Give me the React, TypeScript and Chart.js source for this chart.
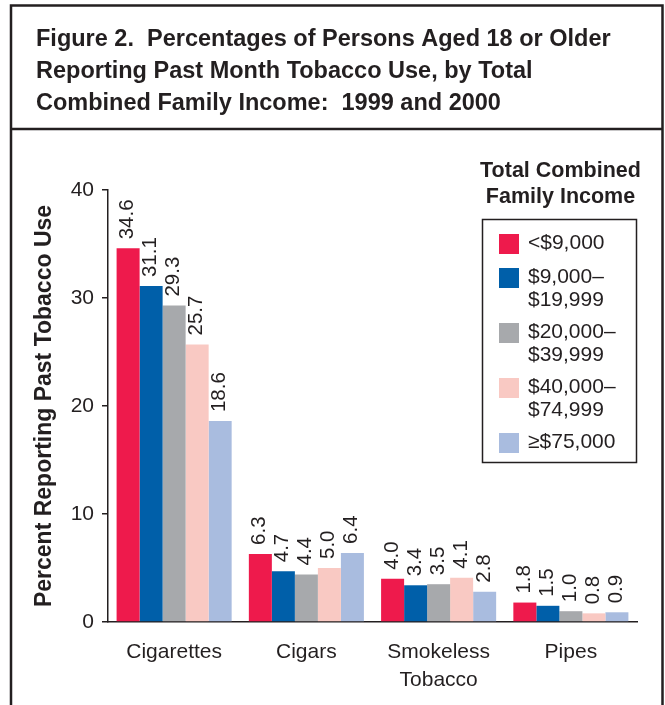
import { useEffect, useRef } from 'react';
import { Chart, registerables } from 'chart.js';

Chart.register(...registerables);

// Tobacco product categories along the x axis
const categories: (string | string[])[] = ['Cigarettes', 'Cigars', ['Smokeless', 'Tobacco'], 'Pipes'];

// Income brackets (legend entries, one array entry per text line)
const incomeGroups: string[][] = [
  ['<$9,000'],
  ['$9,000–', '$19,999'],
  ['$20,000–', '$39,999'],
  ['$40,000–', '$74,999'],
  ['≥$75,000'],
];

// Percent reporting past month use, per income bracket
const under9k = [34.6, 6.3, 4.0, 1.8];
const from9kTo19k = [31.1, 4.7, 3.4, 1.5];
const from20kTo39k = [29.3, 4.4, 3.5, 1.0];
const from40kTo74k = [25.7, 5.0, 4.1, 0.8];
const over75k = [18.6, 6.4, 2.8, 0.9];

const seriesValues = [under9k, from9kTo19k, from20kTo39k, from40kTo74k, over75k];
const groupColors = ['#EE1A4C', '#005FA9', '#A7A9AC', '#F9C9C3', '#A9BCDF'];

const yTicks = [0, 10, 20, 30, 40];

const titleLines = [
  'Figure 2.  Percentages of Persons Aged 18 or Older',
  'Reporting Past Month Tobacco Use, by Total',
  'Combined Family Income:  1999 and 2000',
];
const legendTitle = ['Total Combined', 'Family Income'];
const yAxisTitle = 'Percent Reporting Past Tobacco Use';

const INK = '#231F20';
const FONT = '"Liberation Sans", Arial, Helvetica, sans-serif';

// Outer frame, heading block and heading text
const framePlugin = {
  id: 'frame',
  beforeDraw(chart: Chart) {
    const { ctx, width, height } = chart;
    ctx.save();
    ctx.fillStyle = '#ffffff';
    ctx.fillRect(0, 0, width, height);
    ctx.strokeStyle = INK;
    ctx.lineWidth = 2.5;
    ctx.beginPath();
    ctx.moveTo(11, height);
    ctx.lineTo(11, 5.5);
    ctx.lineTo(662.5, 5.5);
    ctx.lineTo(662.5, height);
    ctx.moveTo(11, 129);
    ctx.lineTo(662.5, 129);
    ctx.stroke();

    ctx.fillStyle = INK;
    ctx.font = `bold 23.5px ${FONT}`;
    ctx.textAlign = 'left';
    ctx.textBaseline = 'alphabetic';
    titleLines.forEach((line, i) => ctx.fillText(line, 36, 46 + i * 32));
    ctx.restore();
  },
};

// Rotated value labels above each bar
const valueLabelPlugin = {
  id: 'valueLabels',
  afterDatasetsDraw(chart: Chart) {
    const { ctx } = chart;
    ctx.save();
    ctx.fillStyle = INK;
    ctx.font = `20.5px ${FONT}`;
    ctx.textAlign = 'left';
    ctx.textBaseline = 'alphabetic';
    chart.data.datasets.forEach((ds, i) => {
      const meta = chart.getDatasetMeta(i);
      meta.data.forEach((bar: any, j: number) => {
        const v = ds.data[j] as number;
        ctx.save();
        ctx.translate(bar.x + 5, bar.y - 9);
        ctx.rotate(-Math.PI / 2);
        ctx.fillText(v.toFixed(1), 0, 0);
        ctx.restore();
      });
    });
    ctx.restore();
  },
};

// Boxed legend with a bold heading above it
const legendPlugin = {
  id: 'boxLegend',
  afterDraw(chart: Chart) {
    const { ctx } = chart;
    ctx.save();
    ctx.fillStyle = INK;
    ctx.textAlign = 'center';
    ctx.textBaseline = 'middle';
    ctx.font = `bold 21.5px ${FONT}`;
    legendTitle.forEach((line, i) => ctx.fillText(line, 560.5, 171 + i * 26));

    ctx.strokeStyle = INK;
    ctx.lineWidth = 1.5;
    ctx.strokeRect(482.5, 219.5, 154, 243);

    ctx.font = `21px ${FONT}`;
    ctx.textAlign = 'left';
    let top = 234;
    chart.data.datasets.forEach((ds, i) => {
      const lines = incomeGroups[i];
      ctx.fillStyle = ds.backgroundColor as string;
      ctx.fillRect(499, top, 20, 20);
      ctx.fillStyle = INK;
      lines.forEach((line, k) => ctx.fillText(line, 528, top + 9 + k * 23));
      top += 34 + (lines.length - 1) * 21;
    });
    ctx.restore();
  },
};

export default function App() {
  const canvasRef = useRef<HTMLCanvasElement | null>(null);

  useEffect(() => {
    document.body.style.margin = '0';
    const canvas = canvasRef.current;
    if (!canvas) return;

    const chart = new Chart(canvas, {
      type: 'bar',
      data: {
        labels: categories as any,
        datasets: seriesValues.map((values, i) => ({
          label: incomeGroups[i].join(' '),
          data: values,
          backgroundColor: groupColors[i],
          borderWidth: 0,
          categoryPercentage: 0.87,
          barPercentage: 1,
        })),
      },
      options: {
        responsive: false,
        animation: false,
        devicePixelRatio: 1,
        layout: { padding: { left: 31, right: 28, top: 190, bottom: 0 } },
        plugins: {
          legend: { display: false },
          title: { display: false },
          tooltip: { enabled: false },
        },
        scales: {
          x: {
            grid: { display: false, drawTicks: false, drawOnChartArea: false },
            border: { display: true, color: INK, width: 1.5 },
            ticks: {
              color: INK,
              padding: 16,
              font: { family: FONT, size: 21, lineHeight: 1.33 },
              maxRotation: 0,
              autoSkip: false,
            },
            afterFit: (scale: any) => {
              scale.height = 83;
            },
          },
          y: {
            min: 0,
            max: 40,
            afterBuildTicks: (scale: any) => {
              scale.ticks = yTicks.map((v) => ({ value: v }));
            },
            grid: { drawOnChartArea: false, drawTicks: true, tickLength: 6, color: INK, lineWidth: 1.5 },
            border: { display: true, color: INK, width: 1.5 },
            ticks: {
              color: INK,
              padding: 8,
              font: { family: FONT, size: 21 },
            },
            title: {
              display: true,
              text: yAxisTitle,
              color: INK,
              padding: { top: 0, bottom: 0 },
              font: { family: FONT, size: 23, weight: 'bold' },
            },
            afterFit: (scale: any) => {
              scale.width = 77;
            },
          },
        },
      },
      plugins: [framePlugin, valueLabelPlugin, legendPlugin],
    });

    return () => chart.destroy();
  }, []);

  return (
    <div style={{ width: 665, height: 705 }}>
      <canvas ref={canvasRef} width={665} height={705} style={{ display: 'block' }} />
    </div>
  );
}
